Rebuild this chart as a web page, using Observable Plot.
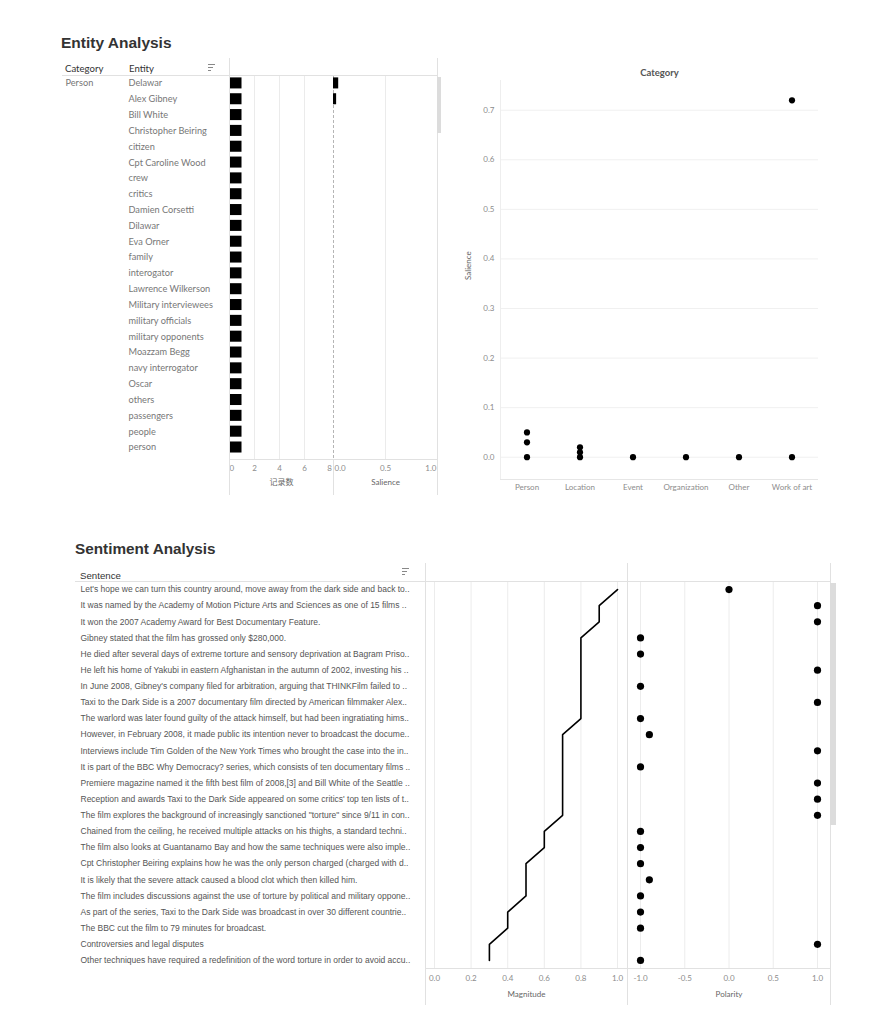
<!DOCTYPE html>
<html><head><meta charset="utf-8">
<script src="https://cdn.jsdelivr.net/npm/d3@7"></script>
<script src="https://cdn.jsdelivr.net/npm/@observablehq/plot@0.6"></script>
<style>
body{margin:0;background:#fff;}
#root{position:relative;width:883px;height:1024px;overflow:hidden;background:#fff;}
.abs{position:absolute;}
.txt{position:absolute;white-space:nowrap;line-height:1;}
</style></head><body><div id="root"></div>
<script>
// ---------- data ----------
const entities = ["Delawar","Alex Gibney","Bill White","Christopher Beiring","citizen","Cpt Caroline Wood","crew","critics","Damien Corsetti","Dilawar","Eva Orner","family","interogator","Lawrence Wilkerson","Military interviewees","military officials","military opponents","Moazzam Begg","navy interrogator","Oscar","others","passengers","people","person"];
const entityCategory = "Person";
const entityCount = [1,1,1,1,1,1,1,1,1,1,1,1,1,1,1,1,1,1,1,1,1,1,1,1];
const entitySalience = [0.05,0.03,0,0,0,0,0,0,0,0,0,0,0,0,0,0,0,0,0,0,0,0,0,0];
const countTicks = [0,2,4,6,8];
const salienceTicks = [0,0.5,1];

const scatterCategories = ["Person","Location","Event","Organization","Other","Work of art"];
const scatterPointCategory = ["Person","Person","Person","Location","Location","Location","Event","Organization","Other","Work of art","Work of art"];
const scatterPointSalience = [0.05,0.03,0,0.02,0.01,0,0,0,0,0.72,0];
const scatterYTicks = [0,0.1,0.2,0.3,0.4,0.5,0.6,0.7];

const sentences = [
"Let's hope we can turn this country around, move away from the dark side and back to..",
"It was named by the Academy of Motion Picture Arts and Sciences as one of 15 films ..",
"It won the 2007 Academy Award for Best Documentary Feature.",
"Gibney stated that the film has grossed only $280,000.",
"He died after several days of extreme torture and sensory deprivation at Bagram Priso..",
"He left his home of Yakubi in eastern Afghanistan in the autumn of 2002, investing his ..",
"In June 2008, Gibney's company filed for arbitration, arguing that THINKFilm failed to ..",
"Taxi to the Dark Side is a 2007 documentary film directed by American filmmaker Alex..",
"The warlord was later found guilty of the attack himself, but had been ingratiating hims..",
"However, in February 2008, it made public its intention never to broadcast the docume..",
"Interviews include Tim Golden of the New York Times who brought the case into the in..",
"It is part of the BBC Why Democracy? series, which consists of ten documentary films ..",
"Premiere magazine named it the fifth best film of 2008,[3] and Bill White of the Seattle ..",
"Reception and awards Taxi to the Dark Side appeared on some critics' top ten lists of t..",
"The film explores the background of increasingly sanctioned \"torture\" since 9/11 in con..",
"Chained from the ceiling, he received multiple attacks on his thighs, a standard techni..",
"The film also looks at Guantanamo Bay and how the same techniques were also imple..",
"Cpt Christopher Beiring explains how he was the only person charged (charged with d..",
"It is likely that the severe attack caused a blood clot which then killed him.",
"The film includes discussions against the use of torture by political and military oppone..",
"As part of the series, Taxi to the Dark Side was broadcast in over 30 different countrie..",
"The BBC cut the film to 79 minutes for broadcast.",
"Controversies and legal disputes",
"Other techniques have required a redefinition of the word torture in order to avoid accu.."
];
const magnitude = [1.0,0.9,0.9,0.8,0.8,0.8,0.8,0.8,0.8,0.7,0.7,0.7,0.7,0.7,0.7,0.6,0.6,0.5,0.5,0.5,0.4,0.4,0.3,0.3];
const polarity = [0.0,1,1,-1,-1,1,-1,1,-1,-0.9,1,-1,1,1,1,-1,-1,-1,-0.9,-1,-1,-1,1,-1];
const magnitudeTicks = [0,0.2,0.4,0.6,0.8,1.0];
const polarityTicks = [-1,-0.5,0,0.5,1];

// ---------- helpers ----------
const root = document.getElementById("root");
function place(el, left, top){ const d=document.createElement("div"); d.className="abs"; d.style.left=left+"px"; d.style.top=top+"px"; d.appendChild(el); root.appendChild(d); }
function box(left, top, w, h, color){ const d=document.createElement("div"); d.className="abs"; Object.assign(d.style,{left:left+"px",top:top+"px",width:w+"px",height:h+"px",background:color}); root.appendChild(d); }
function hl(x1,x2,y,c){ box(x1,y,x2-x1,1,c||"#e1e1e1"); }
function vl(x,y1,y2,c){ box(x,y1,1,y2-y1,c||"#e1e1e1"); }
function txt(s, left, top, css){ const d=document.createElement("div"); d.className="txt"; d.textContent=s; d.style.left=left+"px"; d.style.top=top+"px"; Object.assign(d.style, css||{}); root.appendChild(d); return d; }
function sortIcon(left, top){
  box(left, top, 7, 1.4, "#888"); box(left, top+3, 5, 1.4, "#888"); box(left, top+6, 2.5, 1.4, "#888");
}
const LATO = "Lato, 'Noto Sans CJK SC', sans-serif";
const ARIAL = "'Liberation Sans', Arial, 'Noto Sans CJK SC', sans-serif";
const st = (ff) => ({background:"transparent", fontFamily:ff, fontSize:"8px", color:"#8c8c8c", overflow:"visible"});

// ---------- Entity Analysis ----------
txt("Entity Analysis", 61, 35.2, {fontFamily:ARIAL, fontWeight:"bold", fontSize:"15.5px", color:"#333"});
txt("Category", 65, 64, {fontFamily:LATO, fontSize:"9.6px", color:"#333"});
txt("Entity", 129, 64, {fontFamily:LATO, fontSize:"9.6px", color:"#333"});
sortIcon(208, 64);

const rowsE = entities.map((e,i)=>({i, entity:e, count:entityCount[i], salience:entitySalience[i]}));
const yE = {domain: entities, range:[15, 15+24*15.83], padding:0, round:false, axis:null};

const plotA = Plot.plot({
  width: 273, height: 440, marginLeft: 169, marginRight: 0, marginTop: 15, marginBottom: 41,
  style: st(LATO),
  x: {domain:[0, 8.32], axis:null},
  y: yE,
  marks: [
    Plot.gridX([2,4,6], {stroke:"#ebebeb", strokeOpacity:1}),
    Plot.barX(rowsE, {x:"count", y:"entity", fill:"#000", insetTop:2.4, insetBottom:2.4}),
    Plot.text(rowsE, {y:"entity", text:"entity", frameAnchor:"left", textAnchor:"start", dx:-101, fill:"#777", fontSize:9.2}),
    Plot.text([{c:entityCategory, e:entities[0]}], {y:"e", text:"c", frameAnchor:"left", textAnchor:"start", dx:-164, fill:"#777", fontSize:9.2}),
    Plot.axisX([0], {tickSize:0, tickPadding:6, textAnchor:"start", tickFormat:d=>String(d), label:null}),
    Plot.axisX(countTicks.slice(1), {tickSize:0, tickPadding:6, tickFormat:d=>String(d), label:null}),
    Plot.text(["记录数"], {frameAnchor:"bottom", dy:25, fill:"#666", fontSize:8})
  ]
});
place(plotA, 60, 60);

const plotB = Plot.plot({
  width: 104, height: 440, marginLeft: 0, marginRight: 0, marginTop: 15, marginBottom: 41,
  style: st(LATO),
  x: {domain:[0, 1], axis:null},
  y: yE,
  marks: [
    Plot.gridX([0.5], {stroke:"#ebebeb", strokeOpacity:1}),
    Plot.ruleX([0], {stroke:"#b5b5b5", strokeDasharray:"3,2"}),
    Plot.barX(rowsE, {x:"salience", y:"entity", fill:"#000", insetTop:2.4, insetBottom:2.4}),
    Plot.axisX([0], {tickSize:0, tickPadding:6, textAnchor:"start", dx:1, tickFormat:d=>d.toFixed(1), label:null}),
    Plot.axisX([0.5], {tickSize:0, tickPadding:6, tickFormat:d=>d.toFixed(1), label:null}),
    Plot.axisX([1], {tickSize:0, tickPadding:6, textAnchor:"end", dx:-1, tickFormat:d=>d.toFixed(1), label:null}),
    Plot.text(["Salience"], {frameAnchor:"bottom", dy:25, fill:"#666", fontSize:8})
  ]
});
place(plotB, 333, 60);

// table chrome
hl(62, 437, 75);
vl(229, 58, 495);
vl(437, 58, 495);
vl(333, 459, 495);
hl(229, 437, 459);
box(437, 77, 4, 56, "#dcdcdc");

// scatter
const pts = scatterPointCategory.map((c,i)=>({category:c, salience:scatterPointSalience[i]}));
const plotC = Plot.plot({
  width: 390, height: 440, marginLeft: 55, marginRight: 17, marginTop: 20, marginBottom: 21,
  style: st(LATO),
  x: {domain: scatterCategories, type:"point", padding:0.5, round:false, axis:null},
  y: {domain:[-0.045, 0.76], axis:null},
  marks: [
    Plot.gridY(scatterYTicks, {stroke:"#f0f0f0", strokeOpacity:1}),
    Plot.dot(pts, {x:"category", y:"salience", r:3.1, fill:"#000"}),
    Plot.axisY(scatterYTicks, {tickSize:0, tickPadding:6, tickFormat:d=>d.toFixed(1), label:null}),
    Plot.axisX({tickSize:0, tickPadding:5, label:null}),
    Plot.text(["Category"], {frameAnchor:"top", dy:-8, lineAnchor:"middle", fontWeight:"bold", fill:"#555", fontSize:9.5}),
    Plot.text(["Salience"], {frameAnchor:"left", dx:-32, rotate:-90, fill:"#666", fontSize:8})
  ]
});
place(plotC, 445, 60);
vl(500, 80, 479, "#eeeeee");
hl(500, 818, 479, "#e6e6e6");

// ---------- Sentiment Analysis ----------
txt("Sentiment Analysis", 75, 541.2, {fontFamily:ARIAL, fontWeight:"bold", fontSize:"15.3px", color:"#333"});
txt("Sentence", 80, 570.8, {fontFamily:ARIAL, fontSize:"9.7px", color:"#333"});
sortIcon(402, 568);

const rowsS = sentences.map((s,i)=>({i, sentence:s, magnitude:magnitude[i], polarity:polarity[i]}));
const yS = {domain: d3.range(sentences.length), type:"band", padding:0, round:false, axis:null};

const plotD = Plot.plot({
  width: 557, height: 450, marginLeft: 355, marginRight: 0, marginTop: 21, marginBottom: 42,
  style: st(LATO),
  x: {domain:[-0.0492, 1.0546], axis:null},
  y: yS,
  marks: [
    Plot.gridX(magnitudeTicks, {stroke:"#ececec", strokeOpacity:1}),
    Plot.line(rowsS, {x:"magnitude", y:"i", stroke:"#000", strokeWidth:1.6}),
    Plot.text(rowsS, {y:"i", text:"sentence", frameAnchor:"left", textAnchor:"start", dx:-345, fill:"#555", fontSize:8.5, fontFamily:ARIAL}),
    Plot.axisX(magnitudeTicks, {tickSize:0, tickPadding:7, tickFormat:d=>d.toFixed(1), label:null}),
    Plot.text(["Magnitude"], {frameAnchor:"bottom", dy:28, fill:"#666", fontSize:8})
  ]
});
place(plotD, 70, 560);

const plotE = Plot.plot({
  width: 203, height: 450, marginLeft: 0, marginRight: 0, marginTop: 21, marginBottom: 42,
  style: st(LATO),
  x: {domain:[-1.147, 1.147], axis:null},
  y: yS,
  marks: [
    Plot.gridX(polarityTicks, {stroke:"#ececec", strokeOpacity:1}),
    Plot.dot(rowsS, {x:"polarity", y:"i", r:3.6, fill:"#000"}),
    Plot.axisX(polarityTicks, {tickSize:0, tickPadding:7, tickFormat:d=>d.toFixed(1), label:null}),
    Plot.text(["Polarity"], {frameAnchor:"bottom", dy:28, fill:"#666", fontSize:8})
  ]
});
place(plotE, 627, 560);

// sentiment chrome
hl(75, 830, 581);
vl(425, 563, 1005);
vl(627, 563, 1005);
vl(830, 563, 1005);
hl(425, 830, 968);
box(830, 583, 6, 242, "#dcdcdc");
</script>
</body></html>
